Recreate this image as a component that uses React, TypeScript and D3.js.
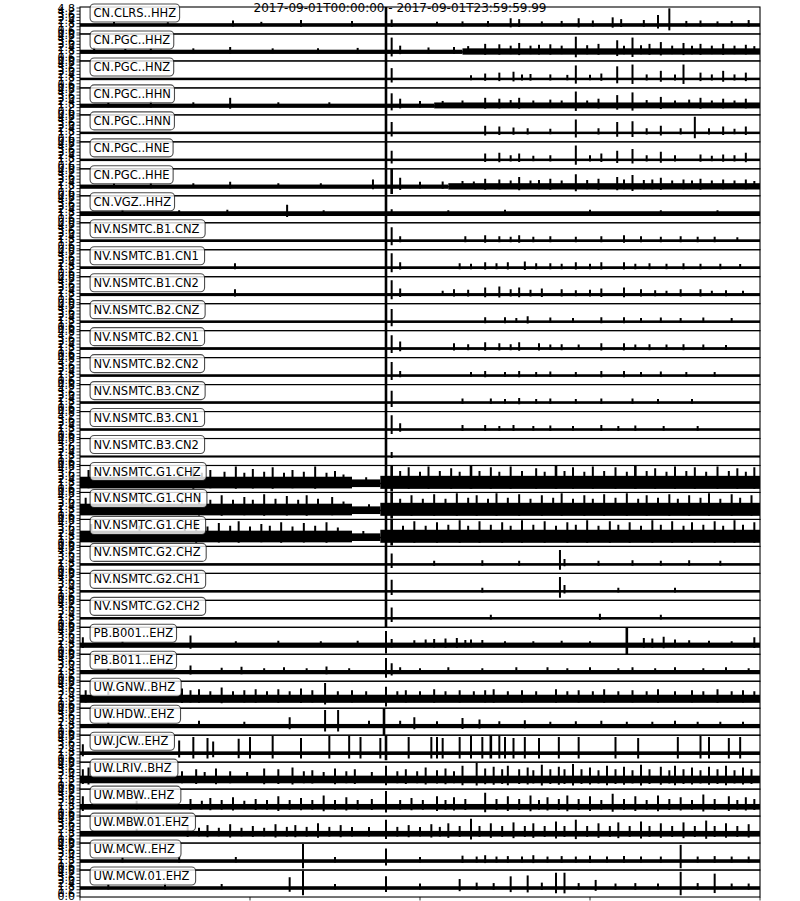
import React from "react";
import * as d3 from "d3";

// ---- data ----
const title = "2017-09-01T00:00:00 - 2017-09-01T23:59:59.99";

const channels = [
  "CN.CLRS..HHZ", "CN.PGC..HHZ", "CN.PGC..HNZ", "CN.PGC..HHN", "CN.PGC..HNN",
  "CN.PGC..HNE", "CN.PGC..HHE", "CN.VGZ..HHZ", "NV.NSMTC.B1.CNZ", "NV.NSMTC.B1.CN1",
  "NV.NSMTC.B1.CN2", "NV.NSMTC.B2.CNZ", "NV.NSMTC.B2.CN1", "NV.NSMTC.B2.CN2",
  "NV.NSMTC.B3.CNZ", "NV.NSMTC.B3.CN1", "NV.NSMTC.B3.CN2", "NV.NSMTC.G1.CHZ",
  "NV.NSMTC.G1.CHN", "NV.NSMTC.G1.CHE", "NV.NSMTC.G2.CHZ", "NV.NSMTC.G2.CH1",
  "NV.NSMTC.G2.CH2", "PB.B001..EHZ", "PB.B011..EHZ", "UW.GNW..BHZ", "UW.HDW..EHZ",
  "UW.JCW..EHZ", "UW.LRIV..BHZ", "UW.MBW..EHZ", "UW.MBW.01.EHZ", "UW.MCW..EHZ",
  "UW.MCW.01.EHZ",
];

const yTickLabels = ["0.0", "0.6", "1.2", "1.8", "2.4", "3.0", "3.6", "4.2", "4.8"];
const xTickHours = [0, 6, 12, 18, 24];

// background noise per channel: [start hour, end hour, up, down]
const noiseBands: number[][][] = [
  [[0, 24, 0.2, 0.2]],
  [[0, 13.5, 0.25, 0.22], [13.5, 24, 0.4, 0.3]],
  [[0, 24, 0.14, 0.14]],
  [[0, 12.5, 0.25, 0.22], [12.5, 24, 0.38, 0.28]],
  [[0, 24, 0.14, 0.14]],
  [[0, 24, 0.14, 0.14]],
  [[0, 13, 0.25, 0.22], [13, 24, 0.4, 0.3]],
  [[0, 24, 0.28, 0.25]],
  [[0, 24, 0.16, 0.14]],
  [[0, 24, 0.16, 0.14]],
  [[0, 24, 0.18, 0.16]],
  [[0, 24, 0.14, 0.14]],
  [[0, 24, 0.16, 0.14]],
  [[0, 24, 0.14, 0.14]],
  [[0, 24, 0.14, 0.14]],
  [[0, 24, 0.14, 0.14]],
  [[0, 24, 0.1, 0.1]],
  [[0, 9.6, 0.75, 0.55], [9.6, 10.6, 0.45, 0.4], [10.6, 24, 0.85, 0.6]],
  [[0, 9.6, 0.75, 0.55], [9.6, 10.6, 0.45, 0.4], [10.6, 24, 0.85, 0.6]],
  [[0, 9.6, 0.75, 0.55], [9.6, 10.6, 0.45, 0.4], [10.6, 24, 0.85, 0.6]],
  [[0, 24, 0.14, 0.14]],
  [[0, 24, 0.14, 0.14]],
  [[0, 24, 0.14, 0.14]],
  [[0, 24, 0.3, 0.28]],
  [[0, 24, 0.25, 0.22]],
  [[0, 24, 0.5, 0.4]],
  [[0, 24, 0.25, 0.22]],
  [[0, 24, 0.2, 0.2]],
  [[0, 24, 0.5, 0.35]],
  [[0, 24, 0.35, 0.28]],
  [[0, 24, 0.35, 0.28]],
  [[0, 24, 0.2, 0.2]],
  [[0, 24, 0.2, 0.2]],
];

// transients per channel: [hour, up, down]
const events: number[][][] = [
  [[1.2, 0.35], [3.1, 0.3], [5.4, 0.5], [6.4, 0.35], [7.8, 0.55], [9.6, 0.45], [10.8, 2, 1], [11.0, 0.6], [12.6, 0.35], [13.5, 0.4], [14.4, 0.45], [15.2, 0.75], [15.5, 0.65], [16.3, 0.4], [17.0, 0.45], [17.6, 0.75], [18.1, 0.5], [18.8, 0.85], [19.1, 0.65], [19.9, 0.55], [20.4, 1.1], [20.8, 1.85], [21.4, 0.45], [21.9, 0.5], [22.5, 0.4], [23.0, 0.45], [23.6, 0.55]],
  [[0.5, 0.5], [1.6, 0.35], [2.5, 0.45], [4.0, 0.4], [5.3, 0.55], [6.8, 0.4], [8.4, 0.4], [9.8, 0.45], [10.8, 2, 1], [11.0, 1.6, 0.5], [11.3, 0.7], [12.3, 0.5], [13.2, 0.55], [13.7, 0.65], [14.3, 0.9], [14.8, 0.85], [15.2, 0.7], [15.5, 1.0], [15.9, 0.7], [16.2, 0.8], [16.6, 0.85], [17.0, 0.7], [17.5, 1.7], [17.9, 0.75], [18.3, 0.9], [18.96, 1.3], [19.2, 0.7], [19.5, 1.6], [19.8, 0.75], [20.1, 0.9], [20.5, 1.1], [20.9, 0.7], [21.3, 1.0], [21.6, 0.7], [21.9, 0.9], [22.3, 0.7], [22.7, 0.9], [23.1, 0.7], [23.5, 0.8], [23.8, 0.65]],
  [[10.8, 2, 1], [11.0, 1.2, 0.4], [13.8, 0.4], [14.3, 0.6], [14.8, 0.7], [15.3, 0.8], [15.6, 0.5], [15.9, 0.55], [16.6, 0.5], [17.2, 0.45], [17.5, 1.5], [18.0, 0.45], [18.4, 0.6], [18.96, 1.4], [19.5, 1.6], [20.0, 0.5], [20.5, 0.9], [21.0, 0.5], [21.3, 1.6], [21.9, 0.7], [22.3, 0.5], [22.7, 0.9], [23.1, 0.5], [23.5, 0.7]],
  [[1.0, 0.4], [2.5, 0.5], [4.0, 0.4], [5.3, 0.9], [7.0, 0.4], [8.8, 0.4], [10.8, 2, 1], [11.0, 1.4, 0.5], [11.3, 0.8], [12.0, 0.55], [12.8, 0.55], [13.5, 0.6], [14.3, 0.9], [14.8, 0.8], [15.2, 0.65], [15.5, 0.9], [16.0, 0.6], [16.6, 0.7], [17.0, 0.6], [17.5, 1.6], [17.9, 0.6], [18.3, 0.8], [18.96, 1.2], [19.5, 1.5], [20.0, 0.65], [20.5, 1.0], [21.0, 0.6], [21.5, 0.7], [21.9, 0.9], [22.3, 0.6], [22.7, 0.8], [23.1, 0.6], [23.5, 0.8]],
  [[10.8, 2, 1], [11.0, 1.2, 0.4], [14.3, 0.8], [14.8, 0.7], [15.3, 0.6], [15.8, 0.5], [16.6, 0.45], [17.5, 1.5], [18.3, 0.5], [18.96, 1.2], [19.5, 1.3], [20.0, 0.5], [20.5, 0.8], [21.2, 0.5], [21.7, 1.8], [22.2, 0.5], [22.7, 0.7], [23.1, 0.45], [23.5, 0.7]],
  [[10.8, 2, 1], [11.0, 1.0, 0.4], [14.3, 0.7], [14.8, 0.8], [15.2, 0.5], [15.5, 0.7], [16.0, 0.45], [16.6, 0.5], [17.5, 1.6], [18.0, 0.5], [18.4, 0.7], [18.96, 1.0], [19.5, 1.2], [20.0, 0.5], [20.5, 0.9], [21.0, 0.5], [21.9, 0.6], [22.3, 0.45], [22.7, 0.6], [23.1, 0.5], [23.5, 0.8]],
  [[1.2, 0.4], [2.5, 0.45], [4.0, 0.4], [5.3, 0.55], [7.0, 0.4], [8.5, 0.4], [10.34, 0.8], [10.8, 2, 1], [11.0, 2, 0.8], [11.3, 1.0], [12.0, 0.55], [12.8, 0.6], [13.5, 0.65], [13.9, 0.6], [14.3, 0.9], [14.8, 0.8], [15.2, 0.7], [15.5, 1.1], [15.9, 0.7], [16.2, 0.75], [16.6, 0.9], [17.0, 0.7], [17.5, 1.4], [17.9, 0.75], [18.3, 0.9], [18.96, 1.1], [19.2, 0.8], [19.5, 1.3], [19.9, 0.75], [20.2, 0.8], [20.5, 1.0], [20.9, 0.7], [21.3, 0.8], [21.6, 0.7], [21.9, 0.9], [22.3, 0.7], [22.7, 0.8], [23.1, 0.7], [23.5, 0.8], [23.8, 0.65]],
  [[1.5, 0.45], [3.5, 0.4], [5.2, 0.45], [7.31, 1.0], [8.6, 0.4], [10.8, 2, 1], [11.0, 0.5], [13.0, 0.4], [15.0, 0.45], [18.0, 0.45], [20.5, 0.4], [22.5, 0.4]],
  [[10.8, 2, 1], [11.0, 1.5, 0.5], [11.3, 0.5], [13.6, 0.5], [14.3, 0.6], [14.8, 0.5], [15.2, 0.45], [15.5, 0.6], [16.0, 0.45], [16.6, 0.5], [17.5, 0.45], [18.4, 0.5], [19.2, 0.6], [19.8, 0.5], [20.5, 0.45], [21.2, 0.5], [21.8, 0.45], [22.4, 0.45], [23.2, 0.4]],
  [[5.47, 0.5], [10.8, 2, 1], [11.0, 1.6, 0.5], [11.3, 0.6], [13.4, 0.5], [13.8, 0.45], [14.3, 0.6], [14.7, 0.5], [15.1, 0.6], [15.7, 0.7], [16.1, 0.5], [16.6, 0.5], [17.0, 0.45], [17.5, 0.6], [18.0, 0.45], [18.4, 0.6], [19.2, 0.6], [19.6, 0.45], [20.1, 0.5], [20.7, 0.45], [21.3, 0.5], [21.9, 0.45], [22.6, 0.45], [23.3, 0.4]],
  [[5.47, 0.6], [10.8, 2, 1], [11.0, 1.6, 0.5], [11.3, 0.7], [12.8, 0.45], [13.2, 0.6], [13.7, 0.55], [14.3, 0.8], [14.8, 0.9], [15.2, 0.6], [15.5, 0.8], [15.9, 0.55], [16.3, 0.7], [17.0, 0.6], [17.5, 0.5], [18.0, 0.55], [18.4, 0.7], [19.2, 0.8], [19.8, 0.6], [20.3, 0.5], [20.7, 0.45], [21.2, 0.6], [21.9, 0.6], [22.3, 0.45], [22.8, 0.5], [23.4, 0.45]],
  [[10.8, 2, 1], [11.0, 1.4, 0.5], [14.3, 0.5], [15.0, 0.5], [15.4, 0.4], [15.8, 0.6], [16.6, 0.45], [17.4, 0.4], [18.4, 0.5], [19.2, 0.5], [19.8, 0.4], [20.5, 0.45], [21.2, 0.4], [22.0, 0.45], [23.0, 0.4]],
  [[10.8, 2, 1], [11.0, 1.5, 0.5], [11.3, 0.8], [13.2, 0.6], [13.7, 0.5], [14.3, 0.7], [14.8, 0.6], [15.2, 0.5], [15.5, 0.7], [16.2, 0.6], [16.6, 0.45], [17.0, 0.5], [17.6, 0.45], [18.4, 0.6], [19.2, 0.6], [19.6, 0.45], [20.1, 0.5], [20.7, 0.45], [21.3, 0.5], [22.0, 0.45], [22.8, 0.4]],
  [[10.8, 2, 1], [11.0, 1.5, 0.5], [11.3, 0.5], [13.8, 0.4], [14.3, 0.5], [15.0, 0.4], [15.5, 0.5], [16.1, 0.4], [16.6, 0.45], [17.5, 0.4], [18.4, 0.5], [19.2, 0.5], [19.8, 0.4], [20.5, 0.45], [21.4, 0.4], [22.4, 0.4]],
  [[10.8, 2, 1], [11.0, 1.3, 0.5], [13.5, 0.45], [14.5, 0.45], [15.0, 0.4], [15.5, 0.5], [16.1, 0.4], [16.6, 0.45], [17.5, 0.4], [18.4, 0.45], [19.5, 0.45], [20.4, 0.4], [21.6, 0.4]],
  [[10.8, 2, 1], [11.0, 1.6, 0.5], [11.3, 0.7], [13.5, 0.5], [14.3, 0.5], [14.8, 0.4], [15.3, 0.5], [16.0, 0.4], [16.6, 0.45], [17.4, 0.4], [18.4, 0.5], [19.0, 0.4], [19.6, 0.45], [20.6, 0.4], [21.8, 0.4]],
  [[10.8, 2, 1], [11.0, 0.5]],
  [[0.3, 1.5], [2.0, 1.3], [3.5, 1.4], [4.0, 1.8], [4.3, 1.2], [4.6, 1.5], [5.1, 1.3], [5.5, 1.9], [5.8, 1.2], [6.1, 1.6], [6.5, 1.3], [6.8, 1.8], [7.2, 1.2], [7.5, 1.5], [7.9, 1.3], [8.3, 1.9], [8.7, 1.2], [9.0, 1.4], [9.3, 1.0], [10.1, 0.7], [10.8, 2, 1], [11.0, 2, 0.9], [11.3, 1.4], [11.6, 1.8], [12.0, 1.3], [12.3, 1.9], [12.7, 1.4], [13.1, 1.7], [13.4, 1.3], [13.8, 2.0], [14.1, 1.4], [14.5, 1.8], [14.8, 1.3], [15.2, 1.9], [15.6, 1.4], [16.1, 1.7], [16.4, 1.3], [16.8, 2.0], [17.1, 1.4], [17.4, 1.8], [17.8, 1.3], [18.1, 1.9], [18.5, 1.4], [18.9, 1.8], [19.3, 1.3], [19.6, 2.0], [20.0, 1.4], [20.3, 1.7], [20.7, 1.3], [21.0, 1.9], [21.4, 1.4], [21.7, 1.8], [22.1, 1.3], [22.5, 1.9], [22.9, 1.4], [23.2, 1.7], [23.5, 1.3], [23.8, 1.8]],
  [[0.2, 1.4], [2.2, 1.2], [3.6, 1.3], [4.2, 1.6], [4.6, 1.2], [5.0, 1.7], [5.4, 1.2], [5.8, 1.5], [6.1, 1.2], [6.5, 1.8], [6.9, 1.3], [7.3, 1.6], [7.7, 1.2], [8.0, 1.7], [8.4, 1.3], [8.9, 1.5], [9.3, 1.0], [10.2, 0.7], [10.8, 2, 1], [11.0, 2, 0.9], [11.3, 1.3], [11.7, 1.7], [12.1, 1.3], [12.5, 1.8], [12.9, 1.3], [13.3, 1.9], [13.7, 1.4], [14.0, 1.7], [14.4, 1.3], [14.7, 1.9], [15.1, 1.4], [15.5, 1.8], [15.9, 1.3], [16.3, 1.7], [16.7, 1.4], [17.0, 1.9], [17.4, 1.3], [17.8, 1.7], [18.1, 1.3], [18.5, 1.8], [18.9, 1.4], [19.3, 1.9], [19.7, 1.3], [20.0, 1.7], [20.4, 1.4], [20.8, 1.8], [21.1, 1.3], [21.5, 1.7], [21.9, 1.4], [22.2, 1.9], [22.6, 1.3], [23.0, 1.8], [23.3, 1.4], [23.7, 1.7]],
  [[0.4, 1.5], [2.1, 1.3], [3.7, 1.4], [4.1, 1.7], [4.5, 1.2], [4.9, 1.6], [5.3, 1.3], [5.6, 1.8], [6.0, 1.2], [6.4, 1.5], [6.7, 1.3], [7.1, 1.7], [7.5, 1.2], [7.9, 1.6], [8.3, 1.3], [8.7, 1.7], [9.1, 1.1], [10.0, 0.7], [10.8, 2, 1], [11.0, 2, 0.9], [11.4, 1.3], [11.8, 1.8], [12.2, 1.3], [12.6, 1.7], [13.0, 1.4], [13.4, 1.9], [13.7, 1.3], [14.1, 1.8], [14.5, 1.4], [14.9, 1.7], [15.2, 1.3], [15.6, 1.9], [16.0, 1.4], [16.4, 1.8], [16.8, 1.3], [17.2, 1.7], [17.5, 1.4], [17.9, 1.9], [18.3, 1.3], [18.7, 1.8], [19.0, 1.4], [19.4, 1.7], [19.8, 1.3], [20.2, 1.9], [20.5, 1.4], [20.9, 1.8], [21.3, 1.3], [21.6, 1.7], [22.0, 1.4], [22.4, 1.8], [22.7, 1.3], [23.1, 1.9], [23.4, 1.4], [23.8, 1.7]],
  [[10.8, 2, 1], [11.0, 1.2, 0.4], [12.5, 0.4], [14.2, 0.45], [15.5, 0.4], [16.94, 1.6, 0.6], [17.1, 0.6], [18.3, 0.4], [19.5, 0.45], [20.5, 0.4], [21.5, 0.45], [22.6, 0.4]],
  [[10.8, 2, 1], [11.0, 1.3, 0.4], [14.2, 0.4], [16.94, 1.6, 0.7], [17.1, 0.7], [19.0, 0.4], [21.0, 0.4]],
  [[10.8, 2, 1], [11.0, 1.2, 0.4], [14.5, 0.4], [18.35, 0.5], [20.5, 0.4]],
  [[0.1, 0.9], [1.5, 0.45], [3.9, 1.1], [5.5, 0.45], [7.0, 0.5], [8.5, 0.45], [9.8, 0.5], [10.8, 1.6, 0.9], [11.0, 0.7], [11.8, 0.55], [12.2, 0.65], [12.5, 0.7], [12.9, 0.75], [13.3, 0.8], [13.6, 0.6], [13.8, 0.65], [14.2, 0.6], [15.0, 0.45], [16.0, 0.45], [17.0, 0.5], [18.0, 0.45], [19.3, 2, 1], [19.9, 0.8], [20.2, 0.75], [20.6, 0.95], [21.0, 0.65], [21.5, 0.55], [22.2, 0.5], [23.0, 0.45], [23.8, 0.9]],
  [[1.0, 0.45], [3.9, 0.75], [5.0, 0.5], [5.7, 0.6], [6.5, 0.45], [7.2, 0.55], [8.0, 0.45], [8.7, 0.65], [9.5, 0.45], [10.8, 1.6, 0.6], [11.0, 1.0], [11.3, 0.55], [12.0, 0.45], [13.0, 0.55], [14.2, 0.45], [15.4, 0.55], [16.5, 0.55], [17.2, 0.45], [18.0, 0.55], [19.0, 0.45], [19.5, 0.55], [20.3, 0.45], [21.0, 0.55], [22.0, 0.45], [22.8, 0.55], [23.6, 0.45]],
  [[0.2, 1.0], [1.0, 0.9], [3.6, 1.2], [3.9, 1.0], [4.2, 1.1], [4.6, 0.9], [5.0, 1.3], [5.4, 0.9], [5.8, 1.0], [6.2, 1.1], [6.6, 0.9], [7.0, 1.1], [7.4, 0.9], [7.8, 1.2], [8.2, 1.0], [8.65, 1.8], [9.1, 0.9], [9.6, 1.0], [10.1, 0.9], [10.8, 1.4, 0.8], [11.2, 0.9], [11.5, 1.0], [12.0, 0.9], [12.5, 1.1], [12.9, 0.9], [13.4, 1.0], [13.9, 0.9], [14.3, 1.0], [14.6, 1.1], [15.1, 0.9], [15.6, 1.0], [16.1, 0.9], [16.8, 1.1], [17.2, 0.9], [17.6, 1.0], [18.1, 0.9], [18.5, 1.1], [19.0, 0.9], [19.5, 1.0], [20.0, 0.9], [20.4, 1.1], [21.0, 0.9], [21.6, 1.0], [22.0, 0.9], [22.5, 1.1], [23.0, 0.9], [23.4, 1.0], [23.8, 0.9]],
  [[1.0, 0.5], [4.2, 0.6], [5.8, 0.5], [7.4, 1.0], [8.65, 1.8], [9.11, 1.8], [10.2, 0.6], [10.73, 2, 1], [11.3, 0.6], [11.8, 1.0], [12.6, 0.55], [13.5, 0.9], [14.1, 0.75], [14.8, 0.55], [15.7, 0.65], [16.6, 0.5], [17.5, 0.55], [18.4, 0.6], [19.3, 0.5], [20.2, 0.5], [21.0, 0.6], [21.8, 0.5], [22.6, 0.5], [23.4, 0.5]],
  [[0.1, 1.0], [3.5, 1.4], [4.0, 1.8], [4.5, 1.7], [4.7, 1.3], [5.6, 1.6], [6.0, 1.8], [6.8, 1.9], [7.8, 1.7], [8.8, 1.9], [9.5, 1.9], [9.9, 1.8], [10.6, 1.7], [10.8, 2, 0.8], [11.6, 1.8], [12.4, 1.8], [12.6, 1.8], [12.8, 1.7], [13.4, 1.8], [13.8, 1.9], [14.2, 1.8], [14.5, 2], [14.8, 1.9], [15.0, 1.8], [15.3, 1.7], [15.7, 1.8], [16.2, 1.7], [16.9, 1.8], [17.6, 1.8], [18.9, 1.8], [19.7, 1.7], [21.1, 1.8], [21.9, 1.9], [22.2, 1.8], [22.9, 1.7], [23.3, 1.8]],
  [[0.1, 1.2], [0.3, 1.4], [3.6, 1.0], [4.1, 1.2], [4.4, 0.9], [4.8, 1.3], [5.3, 1.0], [5.9, 0.9], [6.5, 1.3], [7.0, 1.2], [7.5, 1.4], [7.9, 1.0], [8.2, 1.1], [8.6, 0.9], [9.0, 1.3], [9.4, 1.0], [9.7, 1.2], [10.3, 0.9], [10.8, 1.6], [11.2, 1.0], [11.5, 1.2], [11.9, 1.0], [12.2, 1.4], [12.6, 1.1], [12.9, 1.3], [13.2, 1.0], [13.5, 1.6], [14.0, 1.9], [14.3, 1.3], [14.6, 1.5], [14.9, 1.2], [15.1, 1.6], [15.5, 1.2], [15.8, 1.4], [16.0, 1.1], [16.3, 1.7], [16.6, 1.2], [16.9, 1.5], [17.1, 1.2], [17.4, 1.8], [17.7, 1.2], [18.0, 1.4], [18.3, 1.1], [18.6, 1.6], [18.9, 1.2], [19.2, 1.5], [19.5, 1.1], [19.8, 1.7], [20.1, 1.2], [20.5, 1.5], [20.8, 1.1], [21.0, 1.6], [21.3, 1.2], [21.6, 1.4], [21.9, 1.1], [22.2, 1.5], [22.5, 1.2], [22.8, 1.6], [23.1, 1.1], [23.4, 1.4], [23.7, 1.2]],
  [[0.1, 1.2], [2.0, 0.7], [3.9, 0.9], [4.3, 0.7], [4.6, 1.0], [5.0, 0.8], [5.4, 1.1], [5.8, 0.7], [6.2, 0.9], [6.6, 0.8], [7.0, 1.2], [7.4, 0.8], [7.8, 1.0], [8.2, 0.8], [8.6, 1.3], [9.0, 0.8], [9.4, 1.1], [9.8, 0.8], [10.3, 0.9], [10.8, 1.8], [11.3, 0.8], [11.7, 1.0], [12.1, 0.8], [12.6, 1.2], [12.9, 0.8], [13.2, 1.1], [13.6, 0.9], [14.3, 1.6], [14.7, 0.9], [15.1, 1.2], [15.5, 0.9], [15.9, 1.3], [16.2, 0.8], [16.5, 1.1], [16.9, 0.9], [17.2, 1.3], [17.6, 0.9], [18.0, 1.2], [18.4, 0.8], [18.8, 1.5], [19.2, 0.9], [19.6, 1.2], [20.0, 0.8], [20.4, 1.3], [20.8, 0.9], [21.2, 1.1], [21.6, 0.8], [22.0, 1.4], [22.4, 0.9], [22.9, 1.2], [23.2, 0.8], [23.5, 1.1], [23.8, 0.9]],
  [[2.0, 0.6], [3.8, 0.9], [4.2, 0.7], [4.5, 1.0], [4.9, 0.7], [5.3, 1.1], [5.7, 0.7], [6.1, 0.9], [6.5, 0.7], [6.9, 1.1], [7.3, 0.8], [7.6, 1.0], [8.0, 0.8], [8.4, 1.2], [8.8, 0.8], [9.2, 1.0], [9.6, 0.8], [10.2, 0.8], [10.8, 1.6], [11.2, 0.8], [11.6, 1.0], [12.0, 0.8], [12.4, 1.1], [12.7, 0.8], [13.0, 1.2], [13.4, 0.9], [13.8, 1.7], [14.1, 0.9], [14.5, 1.2], [14.9, 0.9], [15.3, 1.3], [15.7, 0.9], [16.0, 1.2], [16.4, 0.9], [16.8, 1.4], [17.1, 0.9], [17.5, 1.6], [17.9, 0.9], [18.3, 1.2], [18.7, 0.9], [19.0, 1.3], [19.4, 0.9], [19.8, 1.4], [20.1, 0.9], [20.5, 1.2], [20.9, 0.9], [21.3, 1.3], [21.7, 0.9], [22.1, 1.5], [22.4, 0.9], [22.8, 1.2], [23.2, 0.9], [23.6, 1.1]],
  [[1.5, 0.45], [3.5, 0.5], [5.5, 0.45], [7.87, 1.9, 0.8], [9.0, 0.45], [10.8, 1.4], [12.0, 0.45], [13.5, 0.6], [14.0, 0.5], [14.3, 0.65], [14.7, 0.5], [15.1, 0.55], [15.6, 0.5], [16.0, 0.65], [16.5, 0.5], [17.0, 0.55], [17.5, 0.5], [18.0, 0.6], [18.6, 0.5], [19.2, 0.55], [19.8, 0.5], [20.5, 0.5], [21.2, 1.8, 0.8], [21.8, 0.5], [22.4, 0.55], [23.0, 0.5], [23.6, 0.5]],
  [[1.0, 0.45], [3.0, 0.5], [5.0, 0.45], [7.4, 1.2], [7.87, 1.9, 0.8], [9.0, 0.45], [10.8, 1.3], [12.0, 0.5], [13.4, 1.0], [14.0, 0.6], [14.6, 0.55], [15.2, 1.3], [15.8, 1.4], [16.3, 0.6], [16.8, 1.7], [17.1, 1.7], [17.6, 0.55], [18.2, 0.9], [18.9, 0.5], [19.6, 0.55], [20.4, 0.5], [21.2, 1.8, 0.8], [21.8, 0.55], [22.4, 1.6], [23.0, 0.5], [23.6, 0.5]],
];

// approximate DejaVu Sans advance widths (em)
const charWidth: Record<string, number> = {
  A: 0.684, B: 0.686, C: 0.698, D: 0.77, E: 0.632, G: 0.775, H: 0.752, I: 0.295,
  J: 0.295, L: 0.557, M: 0.863, N: 0.748, O: 0.787, P: 0.603, R: 0.695, S: 0.635,
  T: 0.611, U: 0.732, V: 0.684, W: 0.989, Z: 0.685, ".": 0.318,
};
const textWidth = (s: string, size: number) =>
  s.split("").reduce((w, c) => w + (charWidth[c] ?? 0.636), 0) * size;

const W = 800;
const H = 901;
const left = 80;
const right = 760;
const top0 = 7;
const panelH = 26.97;
const labelSize = 11.5;
const font = "DejaVu Sans, sans-serif";

export default function App() {
  const x = d3.scaleLinear().domain([0, 24]).range([left, right]);
  const bottom = top0 + panelH * channels.length;

  return (
    <svg width={W} height={H} style={{ position: "absolute", left: 0, top: 0 }} fontFamily={font}>
      <rect width={W} height={H} fill="#fff" />
      <defs>
        {channels.map((_, i) => (
          <clipPath id={`clip${i}`} key={i}>
            <rect x={left} y={top0 + i * panelH} width={right - left} height={panelH} />
          </clipPath>
        ))}
      </defs>
      {channels.map((name, i) => {
        const top = top0 + i * panelH;
        const y = d3.scaleLinear().domain([-1, 2]).range([top + panelH, top]);
        const yt = d3.scaleLinear().domain([0, 4.8]).range([top + panelH - 1, top + 1]);
        const tw = textWidth(name, labelSize);
        const tx = left + 0.02 * (right - left);
        const ly = top + 6;
        return (
          <g key={name}>
            <g clipPath={`url(#clip${i})`}>
              <line x1={x(0)} x2={x(24)} y1={y(0)} y2={y(0)} stroke="#000" strokeWidth={1.5} />
              {noiseBands[i].map(([a, b, up, dn], k) => (
                <rect key={k} x={x(a)} width={x(b) - x(a)} y={y(up)} height={y(-dn) - y(up)} fill="#000" />
              ))}
              {events[i].map(([t, up, dn], k) => (
                <line
                  key={k}
                  x1={x(t)}
                  x2={x(t)}
                  y1={y(-(dn ?? Math.min(up * 0.35, 0.6)))}
                  y2={y(up)}
                  stroke="#000"
                  strokeWidth={up >= 2 ? 2.6 : 2}
                />
              ))}
            </g>
            <rect x={left} y={top} width={right - left} height={panelH} fill="none" stroke="#000" strokeWidth={1.1} />
            {yTickLabels.map((lab) => {
              const v = +lab;
              return (
                <g key={lab}>
                  <line x1={left - 3.5} x2={left} y1={yt(v)} y2={yt(v)} stroke="#000" strokeWidth={0.8} />
                  <text x={left - 5} y={yt(v)} dy="0.35em" textAnchor="end" fontSize={11}>
                    {lab}
                  </text>
                </g>
              );
            })}
            <rect
              x={tx - 3.5}
              y={ly - 9}
              width={tw + 7}
              height={18}
              rx={4}
              fill="#fff"
              fillOpacity={0.8}
              stroke="#000"
              strokeOpacity={0.7}
              strokeWidth={1.1}
            />
            <text x={tx} y={ly} dy="0.35em" fontSize={labelSize}>
              {name}
            </text>
          </g>
        );
      })}
      {xTickHours.map((h) => (
        <line key={h} x1={x(h)} x2={x(h)} y1={bottom} y2={bottom + 3.5} stroke="#000" strokeWidth={0.8} />
      ))}
      <text x={W / 2} y={12} textAnchor="middle" fontSize={12}>
        {title}
      </text>
    </svg>
  );
}
